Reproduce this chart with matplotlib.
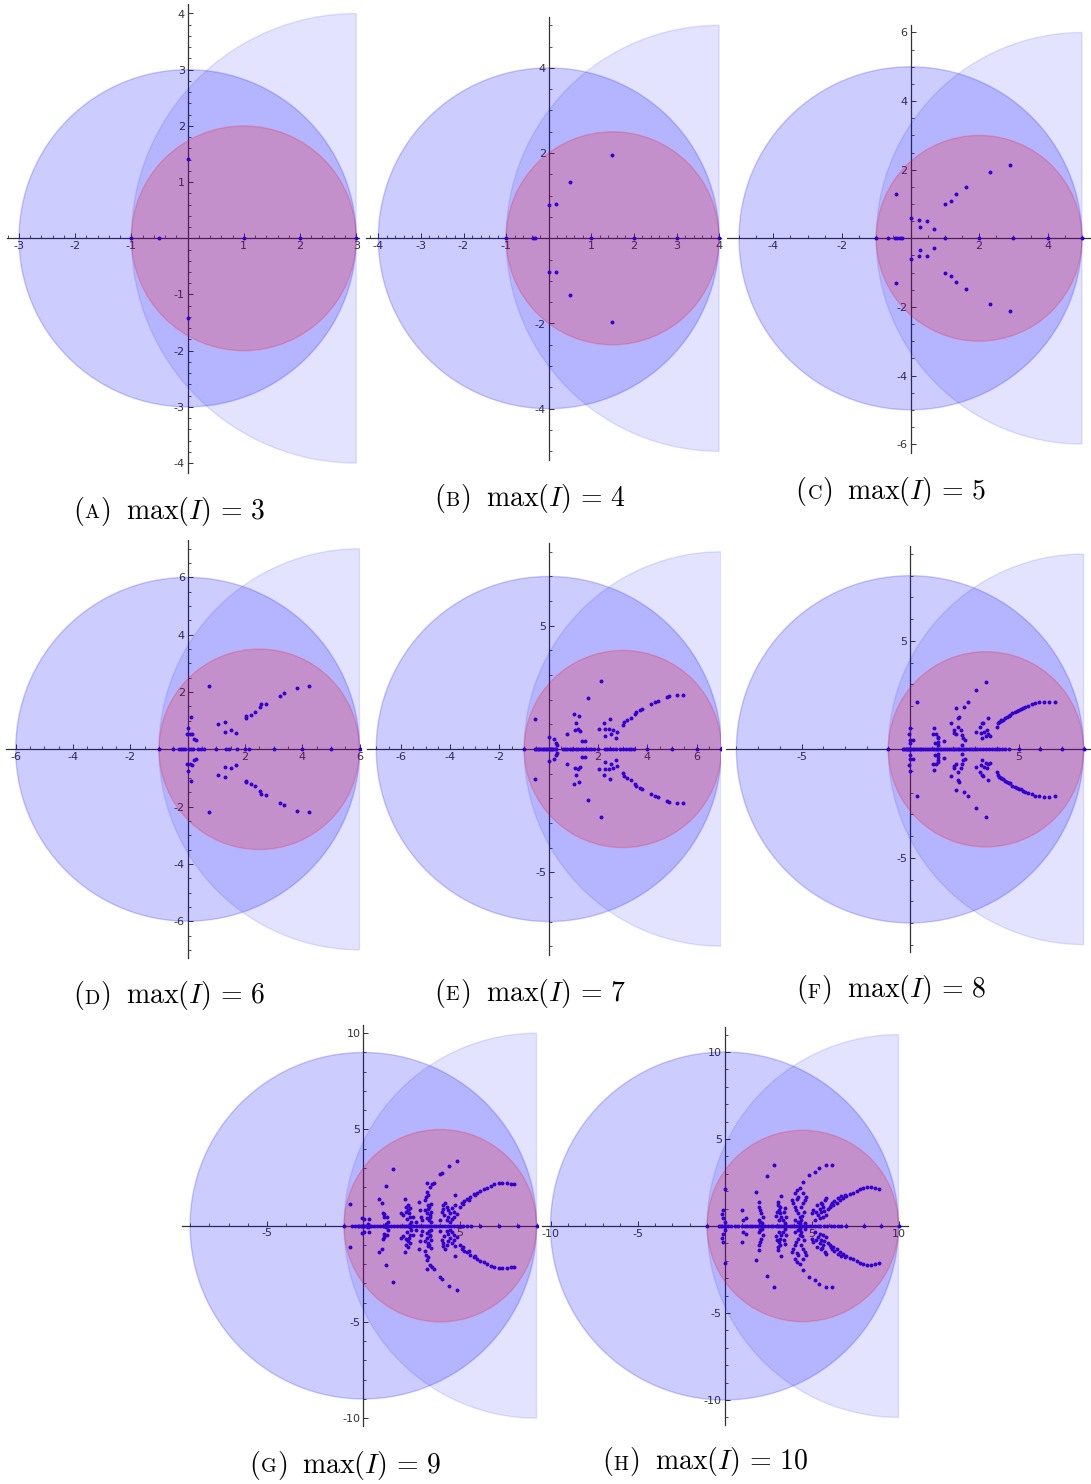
import matplotlib
matplotlib.use("Agg")
import matplotlib.pyplot as plt
from matplotlib.patches import Circle, Wedge
from matplotlib.ticker import MultipleLocator, FuncFormatter
from matplotlib.offsetbox import HPacker, TextArea, AnchoredOffsetbox, DrawingArea

plt.rcParams["axes.unicode_minus"] = False
plt.rcParams["mathtext.fontset"] = "cm"

W, H = 1091, 1484

A_REAL = [-1, -0.5, 1, 2, 3]
A_RE = [0.0]
A_IM = [1.414]

B_REAL = [-1, -0.38, -0.32, 1, 2, 3, 4]
B_RE = [0.0, 0.16, 0.49, 1.49]
B_IM = [0.78, 0.80, 1.33, 1.96]

C_REAL = [-1, -0.66, -0.45, -0.39, -0.32, -0.24, 1, 2, 3, 4, 5]
C_RE = [-0.42, 0.0, 0.25, 0.49, 0.28, 0.68, 1.0, 1.17, 1.34, 1.62, 2.33, 2.91]
C_IM = [1.30, 0.60, 0.53, 0.51, 0.33, 0.28, 1.0, 1.10, 1.28, 1.49, 1.92, 2.13]

D_REAL = [-1, -0.5, -0.3, -0.22, -0.15, -0.08, 0.05, 0.12, 0.2, 0.38, 0.47, 0.57,
          1, 1.34, 1.46, 1.72, 2, 2.16, 3, 4, 5, 6]
D_RE = [0.76, 0.13, 0.0, -0.02, 0.08, 0.14, 0.23, 0.28, 1.07, 1.29, 1.31, 1.52, 1.70,
        2.04, 2.04, 2.21, 2.34, 2.54, 2.55, 2.72, 3.21, 3.38, 3.82, 4.22]
D_IM = [2.20, 1.11, 0.74, 0.53, 0.53, 0.54, 0.37, 0.33, 0.88, 0.95, 0.61, 0.67, 0.56,
        1.09, 1.15, 1.20, 1.29, 1.47, 1.57, 1.59, 1.87, 1.96, 2.14, 2.20]

E_REAL = [-1, -0.58, -0.5, -0.44, -0.38, -0.31, -0.25, -0.19, -0.12, -0.06, 0.0, 0.04,
          0.09, 0.14, 0.19, 0.25, 0.31, 0.57, 0.66, 0.74, 0.84, 0.95, 1.0, 1.09, 1.19,
          1.31, 1.4, 1.5, 1.62, 1.73, 1.84, 2.0, 2.26, 2.38, 2.49, 2.6, 2.74, 2.88, 3.0,
          3.12, 3.24, 3.35, 3.46, 4.0, 5.0, 6.0, 7.0]
E_RE = [-0.58, 0.0, 0.23, 0.30, 0.34, 0.73, 1.01, 1.21, 1.11, 1.08, 1.17, 1.28, 1.35,
        1.48, 1.59, 2.13, 2.02, 2.22, 2.26, 2.29, 2.43, 2.47, 2.53, 2.59, 2.72, 2.76,
        3.03, 3.06, 3.17, 3.32, 3.50, 3.54, 3.68, 3.79, 4.15, 4.31, 4.45, 4.78, 4.89,
        5.19, 5.46]
E_IM = [1.20, 0.47, 0.42, 0.23, 0.16, 0.61, 1.41, 1.35, 1.04, 0.77, 0.81, 0.74, 0.34,
        0.32, 2.08, 2.77, 0.80, 1.07, 0.81, 0.53, 0.80, 1.22, 0.61, 0.77, 0.46, 0.70,
        0.97, 1.08, 1.18, 1.27, 1.41, 1.51, 1.58, 1.62, 1.82, 1.92, 1.96, 2.12, 2.15,
        2.19, 2.19]

F_REAL = [-1, -0.32, -0.26, -0.2, -0.14, -0.09, -0.04, 0.0, 0.06, 0.12, 0.18, 0.26,
          0.35, 0.44, 0.52, 0.61, 0.7, 0.8, 0.88, 0.96, 1.04, 1.12, 1.2, 1.26, 1.31,
          1.36, 1.43, 1.52, 1.6, 1.69, 1.78, 1.87, 1.96, 2.04, 2.12, 2.2, 2.28, 2.35,
          2.42, 2.5, 2.6, 2.7, 2.8, 2.9, 3.0, 3.1, 3.22, 3.35, 3.48, 3.62, 3.76, 3.9,
          4.0, 4.12, 4.26, 4.4, 4.58, 5, 6, 7, 8]
F_RE = [0.32, 0.0, -0.06, 0.0, 0.15, 0.0, 1.05, 1.10, 1.22, 1.28, 1.30, 1.55, 1.13,
        1.28, 1.30, 1.90, 2.10, 2.22, 2.26, 2.49, 2.65, 3.02, 3.50, 2.05, 2.22, 2.37,
        2.40, 2.45, 2.52, 2.14, 2.03, 2.38, 3.02, 3.22, 3.30, 3.38, 3.27, 3.42, 3.53,
        3.61, 3.68, 3.50, 3.30, 3.60, 4.0, 4.04, 4.10, 4.19, 4.2, 4.30, 4.4, 4.46,
        4.55, 4.61, 4.72, 4.85, 4.92, 5.02, 5.12, 5.2, 5.31, 5.46, 5.62, 5.77, 5.93,
        6.19, 6.39, 6.66]
F_IM = [2.17, 1.0, 0.71, 0.43, 0.43, 0.27, 0.69, 0.97, 0.69, 0.50, 0.35, 0.38, 0.27,
        0.58, 0.20, 1.23, 1.89, 1.43, 1.50, 1.97, 2.17, 2.71, 3.12, 0.88, 1.04, 0.88,
        0.66, 0.50, 0.43, 0.70, 0.76, 0.20, 0.82, 1.05, 1.20, 1.22, 0.73, 0.81, 0.88,
        0.70, 0.61, 0.62, 0.50, 1.43, 1.05, 1.20, 1.27, 1.31, 1.33, 1.37, 1.45, 1.49,
        1.53, 1.57, 1.68, 1.74, 1.77, 1.81, 1.85, 1.90, 1.95, 2.0, 2.08, 2.15, 2.17,
        2.20, 2.20, 2.17]

G_REAL = [-1, -0.6, -0.45, -0.3, -0.2, -0.12, -0.05, 0.0, 0.05, 0.12, 0.2, 0.3, 0.4,
          0.55, 0.7, 0.85, 1.0, 1.1, 1.2, 1.3, 1.45, 1.6, 1.75, 1.9, 2.0, 2.1, 2.2, 2.3,
          2.4, 2.5, 2.6, 2.75, 2.9, 3.0, 3.1, 3.2, 3.3, 3.4, 3.5, 3.65, 3.8, 3.95, 4.1,
          4.25, 4.4, 4.55, 4.7, 4.85, 5.0, 5.2, 5.4, 5.6, 6.05, 7.05, 8.05, 9.0]
G_RE = [-0.70, -0.07, 0.05, 0.31, 0.23, 0.79, 1.19, 1.54, 0.96, 1.01, 1.10, 1.22, 1.05,
        1.28, 1.19, 2.15, 2.24, 2.33, 2.38, 2.41, 2.29, 2.06, 1.96, 2.50, 2.41, 2.59,
        2.76, 2.90, 2.94, 3.02, 3.06, 3.20, 3.25, 3.29, 3.32, 3.46, 3.58, 3.69, 3.99,
        4.07, 4.46, 4.86, 3.41, 3.53, 3.46, 3.53, 3.32, 3.23, 4.16, 4.25, 4.34, 4.42,
        4.51, 4.60, 4.69, 4.72, 4.77, 4.07, 3.99, 4.34, 4.51, 4.77, 5.0, 5.12, 5.17,
        5.24, 5.38, 5.47, 5.56, 5.73, 5.82, 5.91, 6.08, 6.26, 6.43, 6.61, 6.78, 7.05,
        7.22, 7.48, 7.69, 7.83,
        3.35, 3.38, 3.44, 3.30, 3.40, 3.50, 3.36, 2.45, 2.30, 2.20, 4.20, 4.40, 4.62,
        4.12, 4.85]
G_IM = [1.12, 0.38, 0.35, 0.35, 0.09, 1.37, 2.06, 2.94, 1.19, 0.67, 0.61, 0.47, 0.43,
        0.21, 0.09, 1.38, 0.99, 0.81, 0.64, 0.47, 0.33, 0.55, 0.64, 0.21, 0.09, 0.47,
        0.21, 1.21, 0.81, 0.47, 0.29, 1.33, 1.50, 1.76, 2.23, 2.02, 2.16, 2.23, 2.68,
        2.75, 3.11, 3.36, 0.99, 0.73, 0.47, 0.21, 0.64, 0.81, 1.07, 1.19, 0.99, 0.81,
        0.64, 0.90, 0.73, 0.47, 1.07, 0.73, 0.29, 0.29, 0.21, 1.59, 0.99, 1.19, 1.11,
        1.30, 1.38, 1.33, 1.51, 1.64, 1.59, 1.71, 1.82, 1.89, 1.97, 2.08, 2.15, 2.20,
        2.20, 2.20, 2.16, 2.15,
        1.05, 0.88, 0.55, 0.38, 0.30, 1.15, 1.62, 0.90, 1.10, 0.70, 0.55, 0.45, 0.35,
        0.88, 0.60]

H_REAL = [-1, -0.3, -0.2, -0.12, -0.05, 0.0, 0.05, 0.1, 0.2, 0.4, 0.6, 0.8, 1.0, 1.15,
          1.3, 1.45, 1.6, 1.75, 1.9, 2.0, 2.1, 2.2, 2.35, 2.5, 2.65, 2.8, 2.95, 3.05,
          3.15, 3.25, 3.35, 3.45, 3.6, 3.75, 3.9, 4.0, 4.1, 4.2, 4.3, 4.45, 4.6, 4.75,
          4.9, 5.05, 5.2, 5.35, 5.5, 5.7, 5.9, 6.1, 6.3, 6.5, 6.7, 7.0, 8.0, 9.0, 10.0]
H_RE = [0.02, -0.08, -0.15, -0.06, 0.02, 0.98, 1.04, 1.23, 1.81, 1.96, 2.00, 2.06, 2.12,
        2.20, 1.96, 2.06, 2.14, 2.45, 2.83, 3.06, 3.16, 3.20, 3.26, 3.26, 3.00, 3.12,
        3.35, 3.55, 3.45, 3.87, 4.03, 4.16, 4.32, 4.51, 4.86, 5.20, 5.43, 5.82, 6.18,
        3.93, 4.03, 4.12, 4.22, 4.32, 4.42, 4.51, 4.61, 4.70, 4.51, 4.22, 4.08, 4.32,
        4.61, 5.0, 5.09, 5.28, 5.47, 5.66, 5.57, 5.76, 5.86, 5.20, 5.47, 5.66, 5.86,
        5.38, 6.05, 6.15, 6.24, 6.44, 6.53, 6.63, 6.82, 6.92, 7.01, 7.21, 7.40, 7.59,
        7.78, 7.98, 8.17, 8.40, 8.65, 8.90,
        3.10, 3.20, 3.40, 3.50, 2.95, 4.15, 4.40, 4.55, 4.45, 4.25, 5.55, 5.70, 5.95,
        5.30, 5.60, 6.10, 6.30, 6.70]
H_IM = [2.12, 0.92, 0.69, 0.44, 0.25, 0.92, 0.35, 0.44, 1.98, 1.40, 1.12, 0.92, 0.73,
        0.54, 0.35, 0.25, 0.15, 2.85, 3.48, 1.21, 0.92, 0.73, 0.54, 1.73, 0.83, 0.35,
        0.35, 0.54, 1.02, 1.50, 1.88, 2.08, 2.21, 2.52, 2.94, 3.13, 3.33, 3.48, 3.52,
        1.35, 1.12, 0.92, 0.73, 0.54, 0.35, 1.31, 1.50, 1.69, 1.88, 1.69, 0.35, 0.19,
        0.15, 0.73, 0.92, 0.83, 0.96, 1.12, 1.35, 1.50, 1.60, 0.35, 0.44, 0.54, 0.63,
        0.63, 1.12, 1.31, 1.21, 1.35, 1.60, 1.50, 1.63, 1.79, 1.75, 1.85, 1.92, 2.04,
        2.12, 2.17, 2.23, 2.23, 2.21, 2.12,
        1.40, 1.10, 0.80, 0.20, 0.55, 1.55, 1.10, 0.80, 0.55, 0.25, 0.80, 0.85, 0.95,
        1.20, 1.25, 1.20, 1.45, 1.75]

LETTERS = ["A", "B", "C", "D", "E", "F", "G", "H"]
MAX_I = [3, 4, 5, 6, 7, 8, 9, 10]
REALS = [A_REAL, B_REAL, C_REAL, D_REAL, E_REAL, F_REAL, G_REAL, H_REAL]
PAIRS_RE = [A_RE, B_RE, C_RE, D_RE, E_RE, F_RE, G_RE, H_RE]
PAIRS_IM = [A_IM, B_IM, C_IM, D_IM, E_IM, F_IM, G_IM, H_IM]
X_MAJOR = [1, 1, 2, 2, 2, 5, 5, 5]
X_MINOR = [0.2, 0.2, 0.5, 0.5, 0.5, 1, 1, 1]
Y_MAJOR = [1, 2, 2, 2, 5, 5, 5, 5]
Y_MINOR = [0.2, 0.5, 0.5, 0.5, 1, 1, 1, 1]

# layout: origin pixel, pixels per unit, view limits, caption centre (pixels)
LAYOUT = [
    (187.6, 238.3, 56.2, (-3.22, 3.05), (-4.17, 4.17), (169, 511)),
    (548.7, 238.3, 42.6, (-4.28, 4.05), (-5.2, 5.2), (530, 499)),
    (910.5, 238.3, 34.3, (-5.35, 5.26), (-6.25, 6.22), (891, 491)),
    (187.6, 749.3, 28.65, (-6.35, 6.05), (-7.3, 7.3), (169, 996)),
    (548.8, 749.0, 24.65, (-7.39, 7.0), (-8.35, 8.35), (530, 993)),
    (910.0, 749.3, 21.7, (-8.46, 8.35), (-9.36, 9.36), (891, 990)),
    (363.3, 1225.7, 19.25, (-9.44, 9.05), (-10.42, 10.42), (345, 1465)),
    (724.5, 1226.0, 17.4, (-10.46, 10.57), (-11.46, 11.46), (705, 1462)),
]

AXIS_COLOR = "#333333"


def tick_label(value, pos):
    if abs(value) < 1e-9:
        return ""
    return f"{value:g}"


def add_caption(fig, letter, n, cx, cy):
    size = 20
    parts = [
        TextArea(r"$($", textprops=dict(fontsize=size)),
        TextArea(rf"$\mathrm{{{letter}}}$", textprops=dict(fontsize=size * 0.72)),
        TextArea(r"$)$", textprops=dict(fontsize=size)),
        DrawingArea(11, 1),
        TextArea(rf"$\max(I)\,=\,{n}$", textprops=dict(fontsize=size)),
    ]
    box = HPacker(children=parts, align="baseline", pad=0, sep=0)
    anchored = AnchoredOffsetbox(loc="center", child=box, pad=0, borderpad=0, frameon=False,
                                 bbox_to_anchor=(cx / W, 1 - cy / H),
                                 bbox_transform=fig.transFigure)
    fig.add_artist(anchored)


def draw_panel(fig, i):
    ox, oy, s, xlim, ylim, cap = LAYOUT[i]
    n = MAX_I[i]
    left = ox + xlim[0] * s
    width = (xlim[1] - xlim[0]) * s
    top = oy - ylim[1] * s
    height = (ylim[1] - ylim[0]) * s
    ax = fig.add_axes([left / W, 1 - (top + height) / H, width / W, height / H])
    ax.patch.set_visible(False)
    ax.set_xlim(*xlim)
    ax.set_ylim(*ylim)

    # points sit underneath the translucent discs, as in the Sage output
    re = PAIRS_RE[i]
    im = PAIRS_IM[i]
    xs = list(REALS[i]) + list(re) + list(re)
    ys = [0] * len(REALS[i]) + list(im) + [-v for v in im]
    ax.scatter(xs, ys, s=8, color="blue", linewidths=0, zorder=2.6)

    half = Wedge((n, 0), n + 1, 90, 270, facecolor=(0, 0, 1, 0.11),
                 edgecolor=(0, 0, 1, 0.11), linewidth=1, zorder=3)
    big = Circle((0, 0), n, facecolor=(0, 0, 1, 0.2), edgecolor=(0, 0, 1, 0.2),
                 linewidth=1, zorder=3)
    pink = Circle(((n - 1) / 2, 0), (n + 1) / 2, facecolor=(1, 0, 0, 0.2),
                  edgecolor=(1, 0, 0, 0.2), linewidth=1, zorder=3)
    for patch in (half, big, pink):
        ax.add_patch(patch)

    for side in ("top", "right"):
        ax.spines[side].set_visible(False)
    for side in ("left", "bottom"):
        ax.spines[side].set_position(("data", 0))
        ax.spines[side].set_color(AXIS_COLOR)
        ax.spines[side].set_linewidth(0.9)

    ax.xaxis.set_major_locator(MultipleLocator(X_MAJOR[i]))
    ax.xaxis.set_minor_locator(MultipleLocator(X_MINOR[i]))
    ax.yaxis.set_major_locator(MultipleLocator(Y_MAJOR[i]))
    ax.yaxis.set_minor_locator(MultipleLocator(Y_MINOR[i]))
    ax.xaxis.set_major_formatter(FuncFormatter(tick_label))
    ax.yaxis.set_major_formatter(FuncFormatter(tick_label))
    ax.tick_params(which="major", direction="in", length=3.5, width=0.7, color=AXIS_COLOR,
                   labelsize=8, labelcolor=AXIS_COLOR, pad=2)
    ax.tick_params(which="minor", direction="in", length=2, width=0.6, color=AXIS_COLOR)

    add_caption(fig, LETTERS[i], n, *cap)


def main():
    fig = plt.figure(figsize=(W / 100, H / 100), dpi=100)
    for i in range(len(LETTERS)):
        draw_panel(fig, i)
    fig.savefig("out.png", dpi=100, facecolor="white")
    plt.close(fig)


if __name__ == "__main__":
    main()
